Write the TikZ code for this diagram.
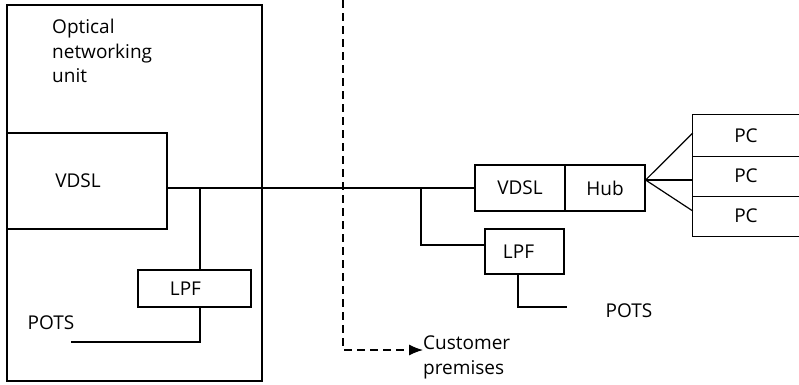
\documentclass[tikz,border=0pt]{standalone}
\usepackage{fontspec}
\setmainfont{Open Sans}
\usetikzlibrary{arrows.meta,calc}
\begin{document}
\begin{tikzpicture}[x=1pt,y=-1pt,
  every node/.style={font=\fontsize{19}{24.5}\selectfont, inner sep=0pt},
  box/.style={draw, line width=1.2pt},
  wire/.style={line width=1.2pt},
  dashline/.style={line width=1.2pt, dash pattern=on 8pt off 5pt}]
\useasboundingbox (0,0) rectangle (799,384);
% outer unit
\node[box, minimum width=255pt, minimum height=376pt] (onu) at (134.5,193) {};
\node[anchor=north west, align=left] (onutext) at (52,19) {Optical\\networking\\unit};
% left boxes
\node[box, minimum width=160pt, minimum height=96pt,
      label={[xshift=-9pt]center:VDSL}] (vdsl1) at (87,181) {};
\node[box, minimum width=113pt, minimum height=37pt,
      label={[xshift=-9pt]center:LPF}] (lpf1) at (194.5,288.5) {};
\node (pots1) at (51,323) {POTS};
% right boxes
\node[box, minimum width=90pt, minimum height=46pt] (vdsl2) at (520,188) {VDSL};
\node[box, minimum width=80pt, minimum height=46pt] (hub) at (605,188) {Hub};
\node[box, minimum width=79pt, minimum height=45pt,
      label={[xshift=-6pt]center:LPF}] (lpf2) at (524.5,251.5) {};
\node (pots2) at (629,311) {POTS};
% PCs (open to the right)
\node[minimum width=106pt, minimum height=41pt] (pc1) at (746,135.5) {PC};
\node[minimum width=106pt, minimum height=40pt] (pc2) at (746,176) {PC};
\node[minimum width=106pt, minimum height=40pt] (pc3) at (746,216) {PC};
\draw[wire] (pc1.north east) -- (pc1.north west) -- (pc3.south west) -- (pc3.south east);
\draw[wire] (pc1.south west) -- (pc1.south east);
\draw[wire] (pc2.south west) -- (pc2.south east);
% coordinates
\coordinate (j1) at (200,188);
\coordinate (j2) at (421,188);
\coordinate (p1end) at (71,342);
\coordinate (p2end) at (567,307);
\coordinate (fan) at ($(hub.east)+(0,-8)$);
% main line
\draw[wire] (vdsl1.east |- vdsl2.west) -- (vdsl2.west);
\draw[wire] (j1) -- (j1 |- lpf1.north);
\draw[wire] (j1 |- lpf1.south) -- (j1 |- p1end) -- (p1end);
\draw[wire] (j2) |- ($(lpf2.west)+(0,-6.5)$);
\draw[wire] (lpf2.south -| 518,0) |- (p2end);
% fan to PCs
\draw[wire] (fan) -- ($(pc1.west)+(0,-2.5)$);
\draw[wire] (fan) -- (fan -| pc2.west);
\draw[wire] (fan) -- ($(pc3.west)+(0,-5)$);
% customer premises
\node[anchor=west, align=left] (cust) at (423,357.5) {Customer\\premises};
\coordinate (dtop) at (343,0);
\coordinate (dcorner) at (343,350);
\draw[dashline] (dtop) -- (dcorner) -- ($(dcorner -| cust.west)+(-12,0)$);
\draw[wire, -{Latex[length=14pt,width=11pt]}] ($(dcorner -| cust.west)+(-13,0)$) -- (dcorner -| cust.west);
\end{tikzpicture}
\end{document}
